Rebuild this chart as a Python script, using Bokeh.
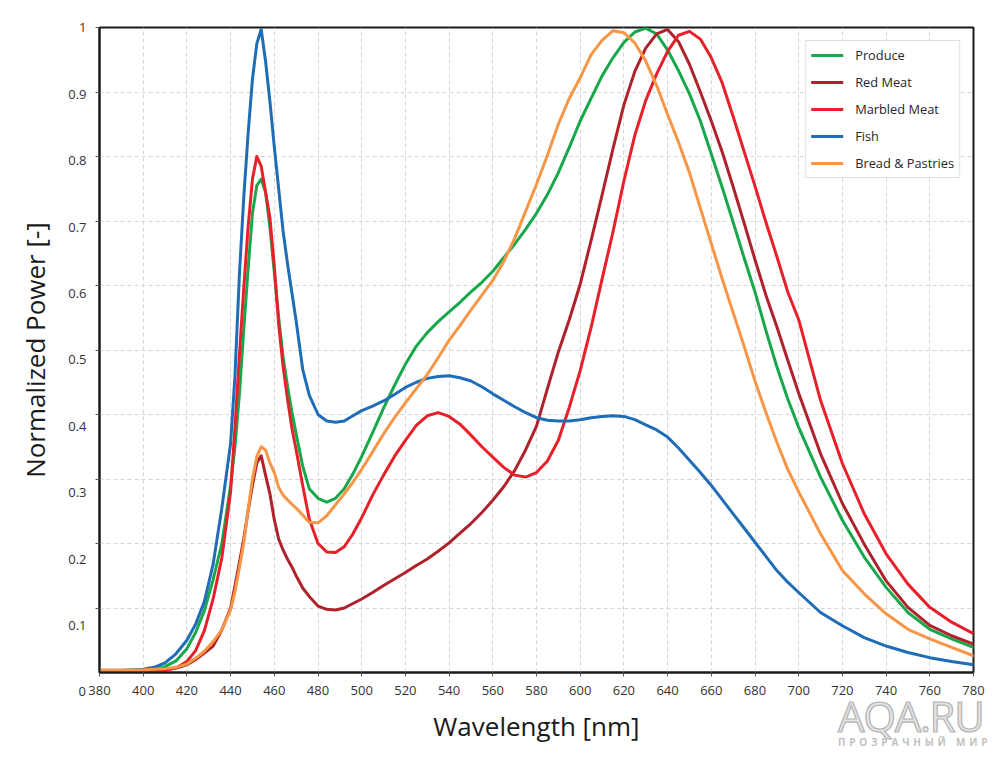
from bokeh.plotting import figure
from bokeh.layouts import column
from bokeh.models import (Range1d, LinearAxis, FixedTicker, CustomJSTickFormatter,
                          ColumnDataSource, Div)
from bokeh.embed import file_html
from bokeh.resources import INLINE

# ---------------- data ----------------
wavelength = [380, 390, 400, 405, 410, 415, 420, 424, 428, 432, 436, 440,
              442, 444, 446, 448, 450, 452, 454, 456, 458, 460, 462, 464, 466, 468, 470,
              473, 476, 480, 484, 488, 492, 496, 500,
              505, 510, 515, 520, 525, 530, 535, 540, 545, 550, 555, 560, 565, 570,
              575, 580, 585, 590, 595, 600, 605, 610, 615, 620, 625, 630, 635, 640,
              645, 650, 655, 660, 665, 670, 675, 680, 685, 690, 695, 700,
              710, 720, 730, 740, 750, 760, 770, 780]

produce = [0.003, 0.003, 0.004, 0.005, 0.009, 0.018, 0.037, 0.062, 0.096, 0.144, 0.200, 0.290,
           0.350, 0.430, 0.530, 0.625, 0.712, 0.755, 0.765, 0.745, 0.690, 0.620, 0.550, 0.490, 0.445, 0.405, 0.370,
           0.320, 0.285, 0.270, 0.264, 0.270, 0.285, 0.308, 0.335,
           0.372, 0.410, 0.445, 0.478, 0.506, 0.527, 0.544, 0.559, 0.574, 0.590, 0.605, 0.622, 0.643, 0.664,
           0.687, 0.712, 0.741, 0.775, 0.814, 0.855, 0.890, 0.925, 0.953, 0.977, 0.993, 0.999, 0.990, 0.965,
           0.933, 0.897, 0.855, 0.804, 0.752, 0.698, 0.643, 0.590, 0.530, 0.474, 0.424, 0.380,
           0.303, 0.236, 0.179, 0.132, 0.093, 0.067, 0.052, 0.039]

red_meat = [0.002, 0.002, 0.002, 0.003, 0.004, 0.007, 0.012, 0.020, 0.030, 0.041, 0.066, 0.100,
            0.134, 0.170, 0.207, 0.250, 0.290, 0.325, 0.336, 0.306, 0.277, 0.237, 0.207, 0.190, 0.176, 0.164, 0.150,
            0.131, 0.118, 0.103, 0.098, 0.097, 0.100, 0.107, 0.114,
            0.124, 0.135, 0.145, 0.155, 0.166, 0.176, 0.188, 0.201, 0.216, 0.231, 0.248, 0.267, 0.288, 0.313,
            0.345, 0.382, 0.440, 0.497, 0.547, 0.602, 0.670, 0.740, 0.812, 0.880, 0.932, 0.968, 0.990, 0.997,
            0.978, 0.943, 0.900, 0.855, 0.807, 0.753, 0.697, 0.640, 0.585, 0.536, 0.484, 0.433,
            0.339, 0.262, 0.199, 0.142, 0.101, 0.073, 0.057, 0.044]

marbled_meat = [0.002, 0.002, 0.002, 0.003, 0.004, 0.007, 0.017, 0.034, 0.065, 0.114, 0.178, 0.280,
                0.380, 0.490, 0.595, 0.690, 0.765, 0.800, 0.785, 0.745, 0.705, 0.630, 0.540, 0.475, 0.425, 0.380, 0.345,
                0.290, 0.238, 0.200, 0.187, 0.186, 0.195, 0.215, 0.240,
                0.275, 0.306, 0.335, 0.360, 0.383, 0.398, 0.403, 0.397, 0.385, 0.368, 0.350, 0.334, 0.318, 0.306,
                0.303, 0.310, 0.328, 0.360, 0.411, 0.468, 0.535, 0.610, 0.683, 0.762, 0.833, 0.887, 0.928, 0.963,
                0.988, 0.994, 0.982, 0.953, 0.914, 0.862, 0.808, 0.754, 0.698, 0.645, 0.590, 0.547,
                0.422, 0.324, 0.246, 0.184, 0.137, 0.101, 0.078, 0.060]

fish = [0.003, 0.003, 0.005, 0.008, 0.015, 0.029, 0.050, 0.075, 0.110, 0.168, 0.255, 0.355,
        0.460, 0.615, 0.735, 0.835, 0.920, 0.975, 0.997, 0.948, 0.885, 0.815, 0.750, 0.685, 0.635, 0.590, 0.545,
        0.470, 0.430, 0.400, 0.390, 0.388, 0.390, 0.398, 0.406,
        0.413, 0.421, 0.431, 0.442, 0.450, 0.456, 0.459, 0.460, 0.457, 0.452, 0.443, 0.432, 0.422, 0.412,
        0.403, 0.395, 0.391, 0.390, 0.390, 0.392, 0.395, 0.397, 0.398, 0.397, 0.392, 0.384, 0.376, 0.365,
        0.348, 0.329, 0.310, 0.290, 0.268, 0.246, 0.224, 0.202, 0.180, 0.158, 0.140, 0.124,
        0.093, 0.0725, 0.054, 0.041, 0.031, 0.023, 0.017, 0.012]

bread_pastries = [0.004, 0.004, 0.004, 0.005, 0.006, 0.008, 0.013, 0.022, 0.033, 0.048, 0.066, 0.097,
                  0.125, 0.162, 0.200, 0.252, 0.300, 0.335, 0.350, 0.345, 0.325, 0.310, 0.287, 0.275, 0.268, 0.261, 0.255,
                  0.244, 0.233, 0.232, 0.243, 0.260, 0.277, 0.295, 0.315,
                  0.342, 0.370, 0.395, 0.418, 0.440, 0.462, 0.488, 0.515, 0.538, 0.562, 0.585, 0.608, 0.637, 0.673,
                  0.715, 0.757, 0.802, 0.850, 0.890, 0.922, 0.958, 0.980, 0.995, 0.992, 0.976, 0.948, 0.910, 0.865,
                  0.822, 0.775, 0.720, 0.665, 0.610, 0.558, 0.506, 0.452, 0.403, 0.357, 0.315, 0.280,
                  0.215, 0.158, 0.122, 0.091, 0.067, 0.052, 0.039, 0.026]

series_names = ["Produce", "Red Meat", "Marbled Meat", "Fish", "Bread & Pastries"]
series_keys = ["produce", "red_meat", "marbled_meat", "fish", "bread_pastries"]
series_colors = ["#18A84B", "#B0222B", "#E8202A", "#1F6DB6", "#F79646"]

x_ticks = [380, 400, 420, 440, 460, 480, 500, 520, 540, 560, 580, 600, 620, 640,
           660, 680, 700, 720, 740, 760, 780]
y_ticks = [0.1, 0.2, 0.3, 0.4, 0.5, 0.6, 0.7, 0.8, 0.9, 1.0]
zero_label = "0"
watermark = "AQA.RU"
watermark_sub = "ПРОЗРАЧНЫЙ МИР"

# tick-label scale of the reference (labels sit slightly below their gridlines)
lab_start, lab_end = 0.0292, 1.0005

source = ColumnDataSource(dict(wavelength=wavelength, produce=produce, red_meat=red_meat,
                               marbled_meat=marbled_meat, fish=fish,
                               bread_pastries=bread_pastries))

FONT = "Open Sans"
AX = "#1a1a1a"
FRAME_W, FRAME_H = 874, 645
B_LEFT, B_RIGHT, B_TOP, B_BOTTOM = 99, 26, 27, 85
TOTAL_W = B_LEFT + FRAME_W + B_RIGHT
TOTAL_H = B_TOP + FRAME_H + B_BOTTOM

p = figure(frame_width=FRAME_W, frame_height=FRAME_H,
           x_range=Range1d(380, 780), y_range=Range1d(0, 1),
           output_backend="svg", toolbar_location=None,
           min_border_left=B_LEFT, min_border_right=B_RIGHT,
           min_border_top=B_TOP, min_border_bottom=B_BOTTOM)

p.background_fill_color = "white"
p.border_fill_color = "white"
p.outline_line_color = AX
p.outline_line_width = 2

# grid
p.xgrid.grid_line_color = "#D6D6D6"
p.xgrid.grid_line_dash = "4 3"
p.xgrid.grid_line_width = 1
p.ygrid.ticker = FixedTicker(ticks=y_ticks)
p.ygrid.grid_line_color = "#D6D6D6"
p.ygrid.grid_line_dash = "4 3"
p.ygrid.grid_line_width = 1

# x axis
xa = p.xaxis[0]
xa.ticker = FixedTicker(ticks=x_ticks)
xa.axis_line_color = AX
xa.axis_line_width = 2
xa.major_tick_out = 4
xa.major_tick_in = 0
xa.major_tick_line_color = "#555555"
xa.minor_tick_line_color = None
xa.major_label_standoff = 9
xa.major_label_text_font = FONT
xa.major_label_text_font_size = "13px"
xa.major_label_text_color = "#333333"
xa.axis_label = "Wavelength [nm]"
xa.axis_label_text_font = FONT
xa.axis_label_text_font_size = "26px"
xa.axis_label_text_font_style = "normal"
xa.axis_label_text_color = AX
xa.axis_label_standoff = 10

# y axis: ticks at the gridlines, labels on a separate label axis
ya = p.yaxis[0]
ya.ticker = FixedTicker(ticks=y_ticks)
ya.formatter = CustomJSTickFormatter(code="return '';")
ya.axis_line_color = AX
ya.axis_line_width = 2
ya.major_tick_out = 4
ya.major_tick_in = 0
ya.major_tick_line_color = "#555555"
ya.minor_tick_line_color = None
ya.major_label_standoff = 0
ya.axis_label = None

p.extra_y_ranges = {"lab": Range1d(lab_start, lab_end)}
lab_axis = LinearAxis(y_range_name="lab", ticker=FixedTicker(ticks=y_ticks),
                      formatter=CustomJSTickFormatter(code="return tick > 0.99 ? '1' : tick.toFixed(1);"),
                      axis_line_color=None, major_tick_line_color=None, minor_tick_line_color=None,
                      major_tick_out=0, major_tick_in=0, major_label_standoff=9,
                      major_label_text_font=FONT, major_label_text_font_size="13px",
                      major_label_text_color="#333333",
                      axis_label="Normalized Power [-]", axis_label_text_font=FONT,
                      axis_label_text_font_size="26px", axis_label_text_font_style="normal",
                      axis_label_text_color=AX, axis_label_standoff=12)
p.add_layout(lab_axis, "left")

# series
for key, name, color in zip(series_keys, series_names, series_colors):
    p.line("wavelength", key, source=source, line_color=color, line_width=3,
           line_join="round", line_cap="round", legend_label=name)

lg = p.legend[0]
lg.location = "top_right"
lg.margin = 13
lg.padding = 5
lg.spacing = 9
lg.glyph_width = 32
lg.glyph_height = 16
lg.label_height = 16
lg.label_standoff = 12
lg.label_text_font = FONT
lg.label_text_font_size = "12.8px"
lg.label_text_color = "#262626"
lg.border_line_color = "#BFBFBF"
lg.border_line_width = 1
lg.background_fill_color = "white"
lg.background_fill_alpha = 1.0

# texts outside the plotting frame ("0" of the y scale, watermark), laid over the
# bottom strip of the figure
OV_H = 80
ov_top = TOTAL_H - OV_H
zero_py = B_TOP + FRAME_H * (lab_end - 0) / (lab_end - lab_start)   # label scale position of 0
html = (
    f'<div style="position:relative;width:{TOTAL_W}px;height:{OV_H}px;font-family:\'{FONT}\';">'
    f'<span style="position:absolute;left:0;width:{B_LEFT - 13}px;text-align:right;'
    f'top:{zero_py - ov_top - 6.9:.1f}px;font-size:13px;line-height:13px;color:#333333;">{zero_label}</span>'
    f'<span style="position:absolute;left:838px;top:{732 - ov_top - 34.3:.1f}px;font-size:42px;'
    f'line-height:36px;letter-spacing:-1.3px;color:#E4E4E4;-webkit-text-stroke:1.2px #B3B3B3;">{watermark}</span>'
    f'<span style="position:absolute;left:838px;top:{746 - ov_top - 7.9:.1f}px;font-size:10px;'
    f'line-height:8px;font-weight:bold;letter-spacing:3.8px;color:#C2C2C2;white-space:nowrap;">{watermark_sub}</span>'
    '</div>'
)
overlay = Div(text=html, width=TOTAL_W, height=OV_H, margin=(-OV_H, 0, 0, 0))

layout = column(p, overlay, spacing=0)

open("out.html", "w").write(file_html(layout, INLINE))
